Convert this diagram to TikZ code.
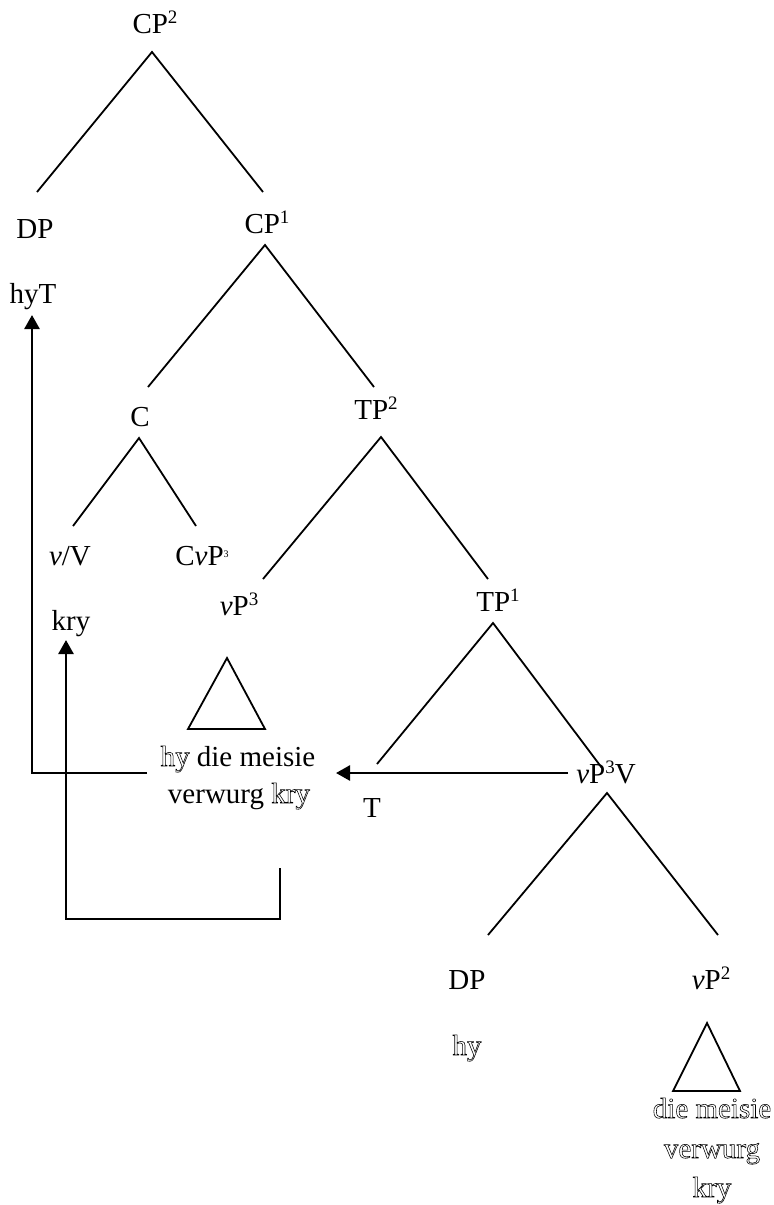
\documentclass[tikz,border=0pt]{standalone}
\usepackage{fontspec}
\setmainfont{Liberation Serif}
\usetikzlibrary{arrows.meta}
\newcommand\outl[1]{\special{pdf:literal direct 1 Tr 0.28 w}#1\special{pdf:literal direct 0 Tr}}
\newcommand\tinysup[1]{\raisebox{0.55ex}{\fontsize{5}{5}\selectfont #1}}
\newcommand\supx[1]{\raisebox{0.75ex}{\fontsize{9.5}{10}\selectfont #1}}
\begin{document}
\begin{tikzpicture}[x=0.5pt,y=-0.5pt,
  lbl/.style={inner sep=0pt, anchor=base, font=\fontsize{14.5}{17}\selectfont},
  branch/.style={line width=0.9pt},
  move/.style={line width=1.3pt, -{Triangle[length=7pt,width=7.5pt]}}]
\useasboundingbox (0,0) rectangle (773,1205);

% labels
\node[lbl] (cp2) at (155,33) {CP\supx{2}};
\node[lbl] (dp1) at (35,238) {DP};
\node[lbl] (cp1) at (267,233) {CP\supx{1}};
\node[lbl] (hyT) at (33,303) {hyT};
\node[lbl] (c) at (140,426) {C};
\node[lbl] (tp2) at (376,419) {TP\supx{2}};
\node[lbl] (vV) at (70,565) {\textit{v}/V};
\node[lbl] (cvp) at (202,565) {C\textit{v}P\tinysup{3}};
\node[lbl] (vp3) at (239,615) {\textit{v}P\supx{3}};
\node[lbl] (kry) at (71,630) {kry};
\node[lbl] (tp1) at (498,611) {TP\supx{1}};
\node[lbl] (t) at (372,817) {T};
\node[lbl] (vp3v) at (606,783) {\textit{v}P\supx{3}V};
\node[lbl] (dp2) at (467,989) {DP};
\node[lbl] (vp2) at (711,989) {\textit{v}P\supx{2}};
\node[lbl] (hy) at (467,1055) {\outl{hy}};
\node[lbl] (m1) at (238,766) {\outl{hy} die meisie};
\node[lbl] (m2) at (239,803) {verwurg \outl{kry}};
\node[lbl] (r1) at (712,1118) {\outl{die meisie}};
\node[lbl] (r2) at (712,1158) {\outl{verwurg}};
\node[lbl] (r3) at (712,1197) {\outl{kry}};

% branch points
\coordinate (cp2t) at (152,52);
\coordinate (cp2l) at (37,192);
\coordinate (cp2r) at (263,192);
\coordinate (cp1t) at (265,245);
\coordinate (cp1l) at (148,387);
\coordinate (cp1r) at (374,387);
\coordinate (ct) at (139,438);
\coordinate (cl) at (73,526);
\coordinate (cr) at (196,526);
\coordinate (tp2t) at (381,437);
\coordinate (tp2l) at (263,579);
\coordinate (tp2r) at (488,579);
\coordinate (tp1t) at (493,623);
\coordinate (tp1l) at (377,764);
\coordinate (tp1r) at (602,768);
\coordinate (vt) at (607,793);
\coordinate (vl) at (488,935);
\coordinate (vr) at (718,935);

\draw[branch] (cp2l) -- (cp2t) -- (cp2r);
\draw[branch] (cp1l) -- (cp1t) -- (cp1r);
\draw[branch] (cl) -- (ct) -- (cr);
\draw[branch] (tp2l) -- (tp2t) -- (tp2r);
\draw[branch] (tp1l) -- (tp1t) -- (tp1r);
\draw[branch] (vl) -- (vt) -- (vr);

% triangles
\coordinate (tr1a) at (227,658);
\coordinate (tr1b) at (188,729);
\coordinate (tr1c) at (265,729);
\draw[branch, line join=miter] (tr1a) -- (tr1b) -- (tr1c) -- cycle;
\coordinate (tr2a) at (707,1023);
\coordinate (tr2b) at (673,1091);
\coordinate (tr2c) at (740,1091);
\draw[branch, line join=miter] (tr2a) -- (tr2b) -- (tr2c) -- cycle;

% movement arrows
\coordinate (a0) at (147,773);
\coordinate (a1) at (32,773);
\coordinate (a2) at (32,315);
\draw[move] (a0) -- (a1) -- (a2);

\coordinate (b0) at (280,868);
\coordinate (b1) at (66,919);
\coordinate (b2) at (66,640);
\draw[move] (b0) |- (b1) -- (b2);

\coordinate (c0) at (568,773);
\coordinate (c1) at (336,773);
\draw[move] (c0) -- (c1);
\end{tikzpicture}
\end{document}
